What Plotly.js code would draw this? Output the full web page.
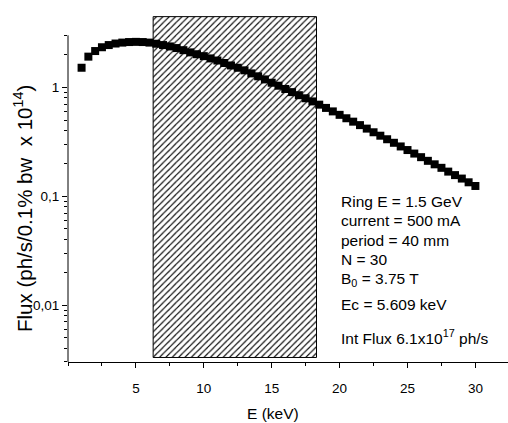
<!DOCTYPE html>
<html>
<head>
<meta charset="utf-8">
<script src="https://cdn.plot.ly/plotly-3.0.1.min.js"></script>
<style>
html,body{margin:0;padding:0;background:#fff;}
#chart{width:508px;height:423px;}
</style>
</head>
<body>
<div id="chart"></div>
<script>
// Photon energy (keV)
const energy = [1, 1.5, 2, 2.5, 3, 3.5, 4, 4.5, 5, 5.5, 6, 6.5, 7, 7.5, 8, 8.5, 9, 9.5, 10,
  10.5, 11, 11.5, 12, 12.5, 13, 13.5, 14, 14.5, 15, 15.5, 16, 16.5, 17, 17.5, 18, 18.5,
  19, 19.5, 20, 20.5, 21, 21.5, 22, 22.5, 23, 23.5, 24, 24.5, 25, 25.5, 26, 26.5, 27,
  27.5, 28, 28.5, 29, 29.5, 30];
// Flux (ph/s/0.1% bw x 10^14)
const flux = [1.51, 1.91, 2.15, 2.33, 2.44, 2.52, 2.57, 2.60, 2.61, 2.60, 2.57, 2.51, 2.44,
  2.37, 2.29, 2.19, 2.09, 2.01, 1.93, 1.84, 1.76, 1.67, 1.585, 1.51, 1.43, 1.34, 1.26,
  1.18, 1.10, 1.033, 0.964, 0.902, 0.845, 0.792, 0.741, 0.692, 0.646, 0.600, 0.558,
  0.519, 0.483, 0.449, 0.417, 0.386, 0.359, 0.333, 0.309, 0.286, 0.265, 0.246, 0.228,
  0.211, 0.196, 0.182, 0.168, 0.156, 0.145, 0.134, 0.124];
// Hatched energy window
const bandE = [6.27, 18.3];
const bandFlux = [0.0033, 4.45];
// Tick labels
const yTickVals = [0.01, 0.1, 1];
const yTickText = ['0,01', '0,1', '1'];
const yMinorVals = [0.003, 0.004, 0.005, 0.006, 0.007, 0.008, 0.009,
  0.02, 0.03, 0.04, 0.05, 0.06, 0.07, 0.08, 0.09,
  0.2, 0.3, 0.4, 0.5, 0.6, 0.7, 0.8, 0.9, 2, 3];
const xTickVals = [5, 10, 15, 20, 25, 30];
// Info text
const infoLines = ['Ring E = 1.5 GeV', 'current = 500 mA', 'period = 40 mm', 'N = 30',
  'B<sub>0</sub> = 3.75 T', 'Ec = 5.609 keV', 'Int Flux 6.1x10<sup>17</sup> ph/s'];
const infoPix = [201.7, 220.7, 240, 259, 279, 304, 336.7];

const W = 508, H = 423, L = 68, R = 0, T = 16, B = 61;
const pw = W - L - R, ph = H - T - B;
const px = x => (x - L) / pw;
const py = y => (H - B - y) / ph;

const font = 'Liberation Sans, Arial, sans-serif';

const band = {
  x: [bandE[0], bandE[1], bandE[1], bandE[0], bandE[0]],
  y: [bandFlux[0], bandFlux[0], bandFlux[1], bandFlux[1], bandFlux[0]],
  mode: 'lines', fill: 'toself', fillcolor: 'white',
  fillpattern: {shape: '/', fgcolor: '#000', bgcolor: '#fff', size: 4.5, solidity: 0.25},
  line: {color: '#000', width: 1}, hoverinfo: 'skip', showlegend: false
};
const pts = {
  x: energy, y: flux, mode: 'markers', type: 'scatter',
  marker: {symbol: 'square', size: 8, color: '#000', line: {width: 0}},
  showlegend: false, cliponaxis: false
};

const annotations = infoLines.map((t, i) => ({
  xref: 'paper', yref: 'paper', x: px(339), y: py(infoPix[i]),
  xanchor: 'left', yanchor: 'middle', showarrow: false, text: t,
  font: {family: font, size: 15.5, color: '#000'}
}));
annotations.push({
  xref: 'paper', yref: 'paper', x: px(273), y: py(413), xanchor: 'center', yanchor: 'middle',
  showarrow: false, text: 'E (keV)', font: {family: font, size: 15.5, color: '#000'}
});
annotations.push({
  xref: 'paper', yref: 'paper', x: px(23), y: py(209), xanchor: 'center', yanchor: 'middle',
  textangle: -90, showarrow: false, text: 'Flux (ph/s/0.1% bw  x 10<sup>14</sup>)',
  font: {family: font, size: 20.5, color: '#000'}
});

const layout = {
  width: W, height: H,
  margin: {l: L, r: R, t: T, b: B, pad: 0},
  paper_bgcolor: '#fff', plot_bgcolor: '#fff',
  font: {family: font, color: '#000'},
  xaxis: {
    range: [0, pw / 13.58], showgrid: false, zeroline: false,
    showline: true, linecolor: '#000', linewidth: 1,
    ticks: 'outside', ticklen: 5, tickwidth: 1, tickcolor: '#000',
    tickmode: 'array', tickvals: xTickVals, ticklabelstandoff: 9,
    tickfont: {family: font, size: 13.5, color: '#000'},
    minor: {dtick: 2.5, ticks: 'outside', ticklen: 3, tickwidth: 1, tickcolor: '#000'}
  },
  yaxis: {
    type: 'log', range: [-2.523, -2.523 + ph / 108.9],
    showgrid: false, zeroline: false, showline: false,
    ticks: 'outside', ticklen: 5, tickwidth: 1, tickcolor: '#000',
    tickmode: 'array', tickvals: yTickVals, ticktext: yTickText,
    tickfont: {family: font, size: 13.5, color: '#000'},
    minor: {tickmode: 'array', tickvals: yMinorVals, ticks: 'outside', ticklen: 3, tickwidth: 1, tickcolor: '#000'}
  },
  shapes: [{
    type: 'line', xref: 'paper', yref: 'paper', x0: 0, x1: 0, y0: 0, y1: py(35.3),
    line: {color: '#000', width: 1}
  }],
  annotations: annotations
};

Plotly.newPlot('chart', [band, pts], layout, {displayModeBar: false, staticPlot: true});
</script>
</body>
</html>
